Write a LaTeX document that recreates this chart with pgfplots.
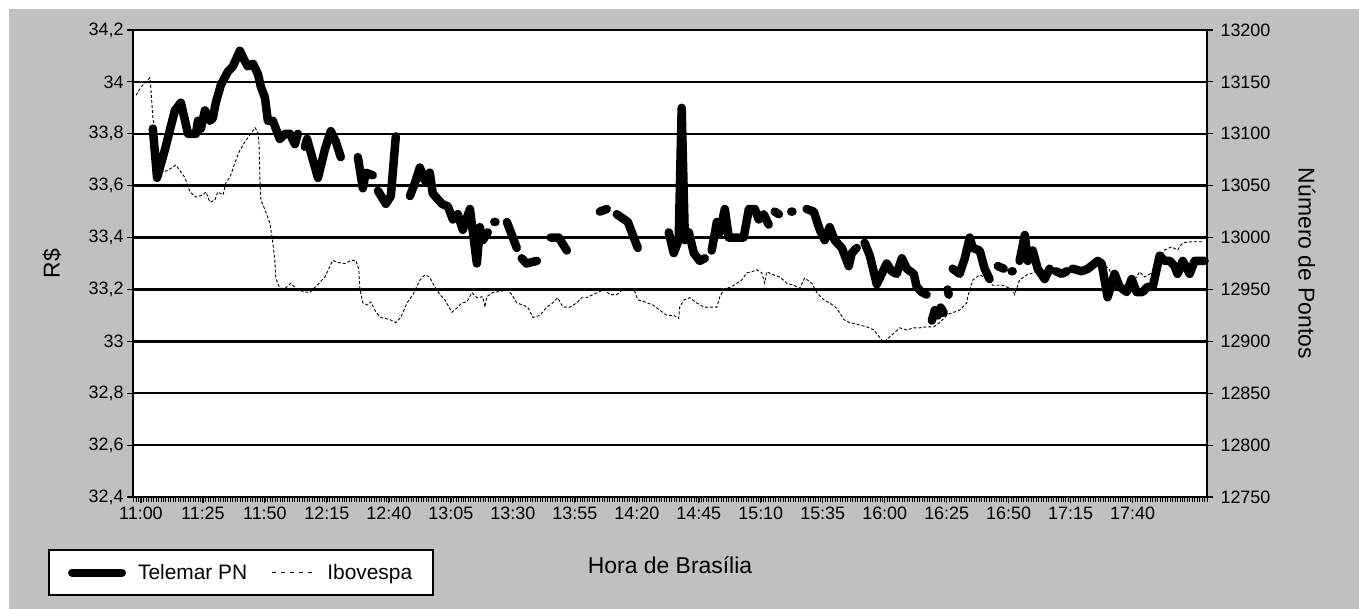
\documentclass[border=0pt]{standalone}
\usepackage{fontspec}
\setmainfont{Liberation Sans}
\usepackage{pgfplots}
\pgfplotsset{compat=1.18}
\usepackage{pgfplotstable}
\definecolor{bggray}{RGB}{192,192,194}

\pgfplotstableread{
m v
4.8 33.82
6.5 33.63
9.7 33.74
13.7 33.89
16.1 33.92
19.0 33.80
22.2 33.80
23.0 33.85
24.2 33.82
25.8 33.89
27.8 33.85
29.0 33.86
30.2 33.92
32.3 33.99
35.1 34.04
37.1 34.06
39.9 34.12
41.9 34.08
43.1 34.06
45.2 34.07
47.2 34.03
48.4 33.98
50.0 33.94
51.2 33.85
53.2 33.85
56.0 33.78
58.1 33.80
60.1 33.80
62.1 33.76
63.3 33.80
nan nan
66.1 33.75
67.0 33.78
71.4 33.63
74.2 33.74
76.6 33.81
78.6 33.77
80.6 33.71
nan nan
87.5 33.71
89.5 33.59
90.7 33.65
93.5 33.64
nan nan
95.6 33.58
98.8 33.53
100.8 33.56
102.8 33.79
nan nan
108.5 33.56
110.5 33.61
112.5 33.67
114.5 33.62
116.5 33.65
117.7 33.57
121.4 33.53
123.8 33.52
125.8 33.47
127.8 33.49
129.8 33.43
132.7 33.51
135.5 33.30
136.7 33.44
137.9 33.39
139.9 33.42
nan nan
142.5 33.46
143.0 33.46
nan nan
147.6 33.46
151.6 33.36
nan nan
153.6 33.32
155.5 33.30
159.7 33.31
nan nan
165.3 33.40
168.5 33.40
171.8 33.35
nan nan
185.1 33.50
187.9 33.51
nan nan
191.9 33.49
196.4 33.46
200.4 33.36
nan nan
212.9 33.42
214.9 33.34
216.9 33.39
218.1 33.90
219.4 33.39
221.0 33.42
223.0 33.34
225.4 33.31
227.4 33.32
nan nan
230.2 33.35
232.3 33.46
233.5 33.42
235.5 33.51
237.1 33.40
240.3 33.40
243.1 33.40
245.2 33.51
247.6 33.51
249.2 33.47
251.2 33.49
253.2 33.45
nan nan
255.6 33.50
257.3 33.49
nan nan
262.3 33.50
262.8 33.50
nan nan
268.5 33.51
271.4 33.50
273.8 33.43
275.8 33.39
277.8 33.44
279.8 33.39
282.7 33.36
285.5 33.29
286.7 33.34
288.7 33.36
nan nan
291.9 33.38
294.0 33.33
296.8 33.22
298.8 33.26
300.8 33.30
302.8 33.27
304.8 33.26
306.9 33.32
308.9 33.28
311.7 33.26
312.9 33.21
314.9 33.19
316.9 33.18
nan nan
319.0 33.08
320.2 33.12
321.4 33.10
322.6 33.13
323.8 33.11
nan nan
325.4 33.20
325.8 33.18
nan nan
327.4 33.28
330.2 33.26
332.3 33.32
334.3 33.40
335.5 33.36
338.3 33.35
340.3 33.28
342.3 33.24
nan nan
345.6 33.29
348.0 33.28
nan nan
351.2 33.27
351.6 33.27
nan nan
354.4 33.31
356.5 33.41
357.7 33.31
359.7 33.35
361.7 33.28
364.5 33.24
366.5 33.28
nan nan
369.0 33.27
371.4 33.26
373.4 33.27
nan nan
375.8 33.28
379.4 33.27
382.0 33.28
385.9 33.31
387.5 33.30
389.9 33.17
392.7 33.26
394.8 33.21
397.6 33.19
399.6 33.24
401.6 33.19
404.0 33.19
406.0 33.21
408.1 33.21
410.9 33.33
412.9 33.31
415.0 33.31
416.9 33.29
418.1 33.26
420.2 33.31
423.0 33.26
425.0 33.31
429.0 33.31
}\telemar

\pgfplotstableread{
m v
-2.0 13137
0 13145
3.6 13154
4.0 13144
4.8 13116
6.0 13094
7.7 13072
8.9 13063
10.9 13065
12.9 13068
14.1 13070
16.1 13063
17.7 13058
19.8 13044
22.2 13039
25.0 13041
26.2 13044
27.8 13034
29.8 13036
31.0 13044
33.1 13041
34.3 13053
35.9 13058
37.9 13072
39.9 13084
41.9 13092
44.0 13099
46.0 13106
47.2 13101
47.6 13091
48.0 13055
48.4 13036
50.0 13027
52.0 13014
53.2 12995
54.0 12978
54.4 12961
56.0 12951
58.1 12951
60.5 12956
62.5 12951
65.3 12948
68.1 12947
70.2 12952
72.2 12957
74.2 12962
76.2 12972
77.4 12978
79.4 12976
82.3 12975
84.7 12978
86.7 12978
87.9 12969
88.3 12951
89.5 12937
91.5 12935
92.7 12938
94.8 12928
96.8 12923
100.4 12921
102.8 12918
104.8 12923
107.3 12937
109.7 12945
112.5 12959
114.5 12964
116.5 12962
117.7 12956
120.6 12945
122.6 12940
125.4 12928
127.4 12932
129.4 12937
131.5 12938
133.5 12947
135.5 12942
137.9 12943
138.7 12933
139.5 12943
141.9 12947
144.8 12948
147.6 12950
149.6 12945
151.6 12937
154.0 12935
156.0 12933
158.1 12923
160.9 12925
163.7 12933
166.1 12937
168.1 12942
170.2 12933
173.0 12933
175.8 12937
177.8 12942
179.8 12942
182.3 12945
185.1 12948
187.1 12950
189.1 12945
191.9 12945
194.4 12950
197.2 12950
199.2 12948
200.4 12940
203.2 12938
206.5 12935
209.3 12930
212.1 12925
214.9 12925
216.9 12922
217.3 12933
219.0 12940
221.4 12942
224.2 12937
227.0 12933
230.0 12933
232.3 12933
233.5 12943
235.1 12950
238.5 12953
242.3 12959
244.4 12966
246.4 12967
248.4 12969
250.4 12966
251.6 12956
252.4 12967
255.2 12964
257.7 12962
260.5 12956
263.3 12954
265.7 12951
267.7 12961
270.6 12956
272.6 12947
275.4 12940
277.8 12937
280.6 12932
283.5 12921
285.9 12918
289.5 12916
292.7 12914
295.6 12911
299.6 12899
302.8 12906
306.0 12913
308.9 12911
311.7 12913
314.1 12913
316.9 12914
319.8 12914
322.2 12918
325.4 12926
330.2 12930
333.1 12937
333.5 12943
335.5 12959
338.3 12964
341.1 12961
343.5 12954
347.6 12954
351.6 12950
352.4 12945
354.4 12959
357.3 12964
361.3 12967
365.3 12969
369.4 12967
373.4 12966
377.4 12969
381.9 12969
387.5 12976
390.7 12969
391.5 12959
393.5 12956
398.0 12952
400.8 12959
402.8 12967
404.8 12962
407.7 12966
410.1 12978
412.9 12988
415.7 12991
418.1 12988
420.2 12995
423.8 12996
428.2 12996
}\ibov

\pgfplotsset{
  common/.style={
    at={(133bp,112bp)}, anchor=south west,
    scale only axis, width=1074bp, height=467bp,
    xmin=-3.2, xmax=430,
    unbounded coords=jump,
    tick align=outside,
    axis line style={line width=2.5bp, black},
    major tick length=6bp,
    minor tick length=5bp,
    every tick/.style={black, line width=1.2bp},
    every minor tick/.style={black, line width=0.5bp},
    tick label style={font=\fontsize{18}{20}\selectfont},
    label style={font=\fontsize{23}{26}\selectfont},
    /pgf/number format/assume math mode=true,
    clip=false,
  }
}

\begin{document}
\begin{tikzpicture}
\useasboundingbox (0bp,0bp) rectangle (1359bp,609bp);
\fill[bggray] (9bp,0bp) rectangle (1359bp,600bp);
\fill[white] (133bp,112bp) rectangle (1207bp,579bp);

\begin{axis}[common,
  axis x line*=bottom, axis y line*=left,
  ymin=32.4, ymax=34.2,
  ytick={32.4,32.6,...,34.21},
  ymajorgrids, grid style={black, line width=2.5bp},
  yticklabel style={/pgf/number format/use comma, /pgf/number format/fixed, /pgf/number format/precision=1},
  xtick={0,25,...,400},
  xticklabels={11:00,11:25,11:50,12:15,12:40,13:05,13:30,13:55,14:20,14:45,15:10,15:35,16:00,16:25,16:50,17:15,17:40},
  xticklabel style={text height=13bp, text depth=0bp, anchor=north},
  minor xtick={-3,-2,...,430},
  xlabel={Hora de Brasília},
  xlabel style={at={(axis description cs:0.5,-0.1456)}, anchor=center},
  ylabel={R\$},
  ylabel style={at={(axis description cs:-0.0754,0.5)}, anchor=center},
]
\addplot[black, line width=8.5bp, line cap=round, line join=round] table[x=m, y=v] {\telemar};
\end{axis}

\begin{axis}[common,
  axis x line=none, axis y line*=right,
  ymin=12750, ymax=13200,
  scaled y ticks=false,
  ytick={12750,12800,...,13200},
  yticklabel style={/pgf/number format/1000 sep={}, /pgf/number format/fixed, /pgf/number format/precision=0, xshift=4bp},
  ylabel={Número de Pontos},
  ylabel style={at={(axis description cs:1.0931,0.5)}, anchor=center, rotate=180},
  legend columns=2,
  legend style={at={(axis description cs:-0.0791,-0.112)}, anchor=north west,
    draw=black, line width=2bp, fill=white,
    font=\fontsize{21}{24}\selectfont,
    inner xsep=19bp, inner ysep=12bp,
    /tikz/every odd column/.append style={column sep=10bp},
    /tikz/every even column/.append style={column sep=22bp}},
]
\addlegendimage{legend image code/.code={\draw[black, line width=8bp, line cap=round] (0bp,0bp) -- (50bp,0bp);}}
\addlegendentry{Telemar PN}
\addplot[black, line width=0.9bp, dash pattern=on 3bp off 2bp,
  legend image code/.code={\draw[black, line width=1bp, dash pattern=on 4bp off 5bp] (0bp,0bp) -- (43bp,0bp);}]
  table[x=m, y=v] {\ibov};
\addlegendentry{Ibovespa}
\end{axis}
\end{tikzpicture}
\end{document}
